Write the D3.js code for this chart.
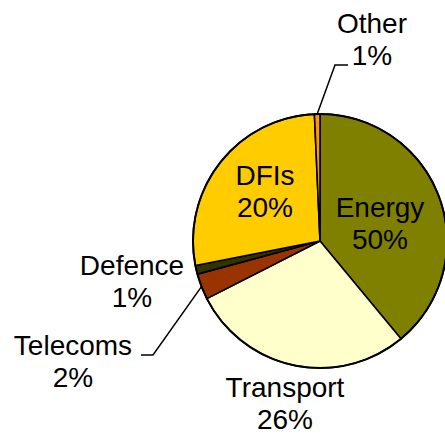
<!DOCTYPE html>
<html>
<head>
<meta charset="utf-8">
<script src="https://cdn.jsdelivr.net/npm/d3@7"></script>
<style>
  body { margin: 0; background: #fff; }
  text { font-family: "Liberation Sans", Arial, sans-serif; fill: #000; }
</style>
</head>
<body>
<div id="chart"></div>
<script>
// slice shares as drawn (clockwise from 12 o'clock)
var categories = ["Energy", "Transport", "Telecoms", "Defence", "DFIs", "Other"];
var values = [39.0, 28.5, 3.3, 1.1, 27.4, 0.7];
// percentages printed on the labels
var pctLabels = ["50%", "26%", "2%", "1%", "20%", "1%"];
var colors = ["#808000", "#FFFFCC", "#993300", "#333300", "#FFCC00", "#FF9900"];

var width = 445, height = 435;
var cx = 320, cy = 241, radius = 127;

// label centres (x, baseline of first line) and leader elbows
var labelPos = {
    Energy:    { x: 380, y: 217 },
    Transport: { x: 285, y: 397 },
    Telecoms:  { x: 73,  y: 355, elbow: [141, 153] },
    Defence:   { x: 132, y: 275 },
    DFIs:      { x: 265, y: 185 },
    Other:     { x: 372, y: 33,  elbow: [335, 348], lineY: 65 }
};

var svg = d3.select("#chart")
    .append("svg")
        .attr("width", width)
        .attr("height", height);

var g = svg.append("g")
    .attr("transform", "translate(" + cx + "," + cy + ")");

var data = categories.map(function(c, i){
    return { name: c, value: values[i], pct: pctLabels[i], color: colors[i] };
});

var pie = d3.pie()
    .sort(null)
    .value(function(d){ return d.value; });

var arc = d3.arc().innerRadius(0).outerRadius(radius);

var arcs = pie(data);

g.selectAll("path.slice")
    .data(arcs)
    .enter()
    .append("path")
        .attr("class", "slice")
        .attr("d", arc)
        .attr("fill", function(d){ return d.data.color; })
        .attr("stroke", "#000")
        .attr("stroke-width", 1.6)
        .attr("stroke-linejoin", "round");

g.append("circle")
    .attr("r", radius)
    .attr("fill", "none")
    .attr("stroke", "#000")
    .attr("stroke-width", 2);

// leader lines for the small outside labels
arcs.forEach(function(d){
    var p = labelPos[d.data.name];
    if (!p.elbow) return;
    var mid = (d.startAngle + d.endAngle) / 2;
    var ex = cx + radius * Math.sin(mid),
        ey = cy - radius * Math.cos(mid);
    var ly = p.lineY !== undefined ? p.lineY : p.y;
    var pts = (d.data.name === "Other")
        ? [[ex, ey], [p.elbow[0], ly], [p.elbow[1], ly]]
        : [[ex, ey], [p.elbow[1], ly], [p.elbow[0], ly]];
    svg.append("path")
        .attr("d", d3.line()(pts))
        .attr("fill", "none")
        .attr("stroke", "#000")
        .attr("stroke-width", 1.5);
});

var labels = svg.selectAll("text.lbl")
    .data(arcs)
    .enter()
    .append("text")
        .attr("class", "lbl")
        .attr("text-anchor", "middle")
        .attr("font-size", "28px");

labels.append("tspan")
    .attr("x", function(d){ return labelPos[d.data.name].x; })
    .attr("y", function(d){ return labelPos[d.data.name].y; })
    .text(function(d){ return d.data.name; });

labels.append("tspan")
    .attr("x", function(d){ return labelPos[d.data.name].x; })
    .attr("y", function(d){ return labelPos[d.data.name].y + 32; })
    .text(function(d){ return d.data.pct; });
</script>
</body>
</html>
